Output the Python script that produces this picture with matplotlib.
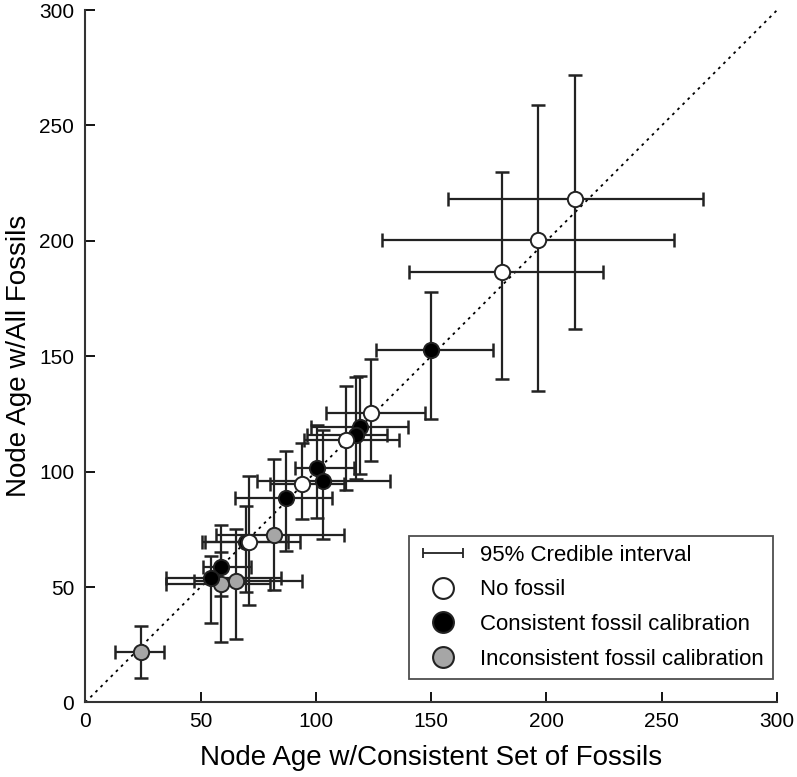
import matplotlib
matplotlib.use('Agg')

import matplotlib.pyplot as plt
from matplotlib.lines import Line2D
from matplotlib.legend_handler import HandlerErrorbar
import numpy as np

plt.rcParams['font.family'] = ['Liberation Sans', 'DejaVu Sans']

# --- Data ---
# No fossil
white_x = [212.5, 196.5, 180.5, 124.0, 113.0, 94.0, 71.0]
white_y = [218.0, 200.5, 186.5, 125.5, 113.5, 94.5, 69.5]
white_xlo = [157.5, 128.5, 140.5, 104.5, 95.0, 80.0, 52.0]
white_xhi = [268.0, 255.5, 224.5, 147.5, 136.0, 112.0, 88.0]
white_ylo = [162.0, 135.0, 140.0, 104.5, 92.0, 79.5, 42.0]
white_yhi = [272.0, 259.0, 230.0, 149.0, 137.0, 112.5, 98.0]

# Consistent fossil calibration
black_x = [150.0, 119.0, 117.5, 100.5, 103.0, 87.0, 69.5, 58.8, 54.5]
black_y = [152.5, 119.5, 116.0, 101.5, 96.0, 88.5, 69.5, 58.8, 54.0]
black_xlo = [126.0, 98.0, 96.0, 91.0, 74.5, 65.0, 50.5, 51.0, 35.0]
black_xhi = [177.0, 140.0, 131.0, 116.5, 132.0, 107.0, 93.0, 72.0, 85.0]
black_ylo = [123.0, 99.0, 97.0, 80.0, 71.0, 65.5, 48.0, 46.0, 34.5]
black_yhi = [178.0, 141.5, 141.0, 120.0, 118.0, 109.0, 85.0, 77.0, 63.5]

# Inconsistent fossil calibration
gray_x = [82.0, 65.2, 59.0, 24.0]
gray_y = [72.5, 52.5, 51.4, 22.0]
gray_xlo = [56.5, 47.0, 35.0, 13.0]
gray_xhi = [112.0, 94.0, 80.0, 34.0]
gray_ylo = [48.5, 27.5, 26.0, 10.5]
gray_yhi = [105.5, 75.0, 65.0, 33.0]

groups = [
    (white_x, white_y, white_xlo, white_xhi, white_ylo, white_yhi, 'white', 'No fossil'),
    (black_x, black_y, black_xlo, black_xhi, black_ylo, black_yhi, 'black', 'Consistent fossil calibration'),
    (gray_x, gray_y, gray_xlo, gray_xhi, gray_ylo, gray_yhi, '#a6a6a6', 'Inconsistent fossil calibration'),
]

fig = plt.figure(figsize=(7.97, 7.77), dpi=100)
ax = fig.add_axes([0.107, 0.096, 0.868, 0.891])

# 1:1 line
ax.plot([0, 300], [0, 300], linestyle=(0, (1.5, 2.5)), color='black', lw=1.3, zorder=1)

# error bars first, markers on top
for x, y, xlo, xhi, ylo, yhi, col, lab in groups:
    x = np.array(x); y = np.array(y)
    xerr = [x - np.array(xlo), np.array(xhi) - x]
    yerr = [y - np.array(ylo), np.array(yhi) - y]
    ax.errorbar(x, y, xerr=xerr, yerr=yerr, fmt='none', ecolor='#222222',
                elinewidth=1.6, capsize=5, capthick=1.8, zorder=2)

for x, y, xlo, xhi, ylo, yhi, col, lab in groups[::-1]:
    ax.plot(x, y, 'o', ms=11, mfc=col, mec='#222222', mew=1.4, ls='none', zorder=3)

# legend handles
eb = ax.errorbar([np.nan], [np.nan], xerr=[[1], [1]], fmt='none', ecolor='#222222',
                 elinewidth=1.3, capsize=3.5, capthick=1.3)
handles = [eb]
labels = ['95% Credible interval']
for g in groups:
    handles.append(Line2D([], [], marker='o', ls='none', ms=15, mfc=g[6],
                          mec='#222222', mew=1.5))
    labels.append(g[7])
leg = ax.legend(handles, labels, loc='lower right', bbox_to_anchor=(0.994, 0.034),
                fontsize=16, frameon=True, fancybox=False, edgecolor='#222222',
                handlelength=2.2, handletextpad=0.6, labelspacing=0.62,
                borderpad=0.4, borderaxespad=0,
                handler_map={type(eb): HandlerErrorbar(xerr_size=0.9)})
leg.get_frame().set_linewidth(1.3)

ax.set_xlim(0, 300)
ax.set_ylim(0, 300)
ax.set_xticks(np.arange(0, 301, 50))
ax.set_yticks(np.arange(0, 301, 50))
ax.tick_params(direction='in', length=7, width=1.3, labelsize=15)
ax.tick_params(axis='x', pad=7)
ax.tick_params(axis='y', pad=8)
ax.spines['top'].set_visible(False)
ax.spines['right'].set_visible(False)
for s in ['left', 'bottom']:
    ax.spines[s].set_linewidth(1.5)
    ax.spines[s].set_color('#333333')

ax.set_xlabel('Node Age w/Consistent Set of Fossils', fontsize=20, labelpad=10)
ax.set_ylabel('Node Age w/All Fossils', fontsize=20, labelpad=5)

fig.savefig('out.png', dpi=100)
